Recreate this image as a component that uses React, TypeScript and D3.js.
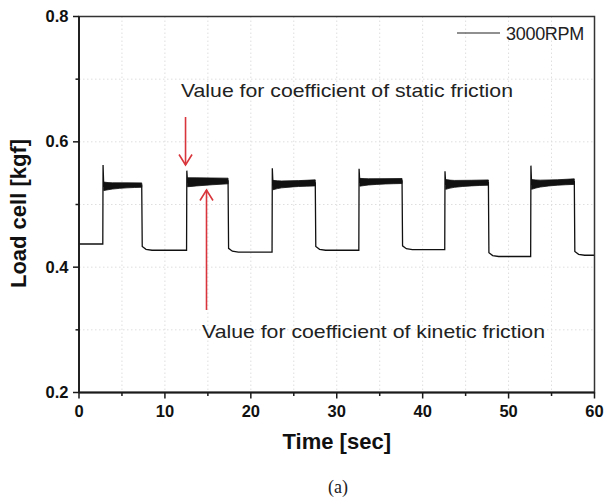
import React from "react";
import * as d3 from "d3";

// ---- data ----
const xTicks = [0, 10, 20, 30, 40, 50, 60];
const xMinor = [5, 15, 25, 35, 45, 55];
const yTicks = [0.2, 0.4, 0.6, 0.8];
const yMinor = [0.3, 0.5, 0.7];
const xGrid = [5, 10, 15, 20, 25, 30, 35, 40, 45, 50, 55];
const yGrid = [0.3, 0.4, 0.5, 0.6, 0.7];

const riseT = [2.8, 12.55, 22.5, 32.6, 42.6, 52.6];
const fallT = [7.3, 17.35, 27.5, 37.6, 47.65, 57.65];
const spikeV = [0.563, 0.554, 0.558, 0.557, 0.553, 0.562];
const highStartV = [0.529, 0.5355, 0.531, 0.5355, 0.532, 0.532];
const highEndV = [0.531, 0.5375, 0.5345, 0.5375, 0.535, 0.5365];
const bandStartW = [0.0068, 0.0072, 0.0075, 0.0062, 0.0078, 0.0078];
const bandMidW = [0.005, 0.0065, 0.0055, 0.005, 0.0055, 0.0055];
const bandEndW = [0.0035, 0.0045, 0.0048, 0.004, 0.0042, 0.0044];
const lowV = [0.437, 0.427, 0.424, 0.427, 0.428, 0.417, 0.419];
const legendLabel = "3000RPM";

const staticNote = { text: "Value for coefficient of static friction", t: 11.87, v: 0.6716 };
const kineticNote = { text: "Value for coefficient of kinetic friction", t: 14.32, v: 0.287 };
const staticArrow = { t: 12.4, from: 0.6396, to: 0.563 };
const kineticArrow = { t: 14.84, from: 0.3317, to: 0.5231 };

const W = 605;
const H = 499;
const m = { left: 79, right: 594.5, top: 16.5, bottom: 392.5 };
const FONT = "'Liberation Sans', Arial, Helvetica, sans-serif";

export default function App() {
  const x = d3.scaleLinear().domain([0, 60]).range([m.left, m.right]);
  const y = d3.scaleLinear().domain([0.2, 0.8]).range([m.bottom, m.top]);

  const pts: [number, number][] = [[0, lowV[0]]];
  riseT.forEach((r, i) => {
    pts.push([r - 0.03, lowV[i]]);
    pts.push([r, spikeV[i]]);
    pts.push([r + 0.08, highStartV[i]]);
    pts.push([fallT[i], highEndV[i]]);
    pts.push([fallT[i] + 0.06, lowV[i + 1] + 0.006]);
    pts.push([fallT[i] + 0.5, lowV[i + 1] + 0.0015]);
    pts.push([fallT[i] + 1.2, lowV[i + 1]]);
  });
  pts.push([60, lowV[lowV.length - 1]]);
  const line = d3
    .line<[number, number]>()
    .x((d) => x(d[0]))
    .y((d) => y(d[1]));

  type B = { t: number; c: number; w: number };
  const bands: B[][] = riseT.map((r, i) => {
    const s = r + 0.08;
    const e = fallT[i];
    const midC = highStartV[i] + (highEndV[i] - highStartV[i]) * 0.3;
    return [
      { t: s, c: highStartV[i], w: bandStartW[i] },
      { t: s + 1.0, c: midC, w: bandMidW[i] },
      { t: e, c: highEndV[i], w: bandEndW[i] },
    ];
  });
  const area = d3
    .area<B>()
    .x((d) => x(d.t))
    .y0((d) => y(d.c - d.w))
    .y1((d) => y(d.c + d.w))
    .curve(d3.curveMonotoneX);

  const red = "#d8363c";
  const axisCol = "#1a1a1a";

  const arrow = (a: { t: number; from: number; to: number }, key: string) => {
    const ax = x(a.t);
    const y0 = y(a.from);
    const y1 = y(a.to);
    const dir = y1 > y0 ? 1 : -1;
    const hw = 6.5;
    const hl = 10.5;
    return (
      <g key={key} stroke={red} strokeWidth={1.6} fill="none">
        <line x1={ax} x2={ax} y1={y0} y2={y1} />
        <polyline points={`${ax - hw},${y1 - dir * hl} ${ax},${y1} ${ax + hw},${y1 - dir * hl}`} />
      </g>
    );
  };

  return (
    <svg
      width={W}
      height={H}
      style={{ position: "absolute", left: 0, top: 0, background: "#fff" }}
      fontFamily={FONT}
    >
      <rect x={0} y={0} width={W} height={H} fill="#fff" />
      <g stroke="#dedede" strokeWidth={1} strokeDasharray="1.5,2.5">
        {xGrid.map((t) => (
          <line key={"gx" + t} x1={x(t)} x2={x(t)} y1={m.top} y2={m.bottom} />
        ))}
        {yGrid.map((v) => (
          <line key={"gy" + v} x1={m.left} x2={m.right} y1={y(v)} y2={y(v)} />
        ))}
      </g>

      <path d={line(pts) || ""} fill="none" stroke="#111" strokeWidth={1.3} />
      {bands.map((b, i) => (
        <path key={"band" + i} d={area(b) || ""} fill="#111" stroke="#111" strokeWidth={0.8} />
      ))}

      <rect
        x={m.left}
        y={m.top}
        width={m.right - m.left}
        height={m.bottom - m.top}
        fill="none"
        stroke="#333"
        strokeWidth={1.5}
      />
      <line x1={m.left} x2={m.left} y1={m.top} y2={m.bottom} stroke={axisCol} strokeWidth={1.8} />
      <line x1={m.left} x2={m.right} y1={m.bottom} y2={m.bottom} stroke={axisCol} strokeWidth={1.8} />

      <g stroke={axisCol} strokeWidth={1.5}>
        {xTicks.map((t) => (
          <line key={"xt" + t} x1={x(t)} x2={x(t)} y1={m.bottom} y2={m.bottom + 6} />
        ))}
        {xMinor.map((t) => (
          <line key={"xm" + t} x1={x(t)} x2={x(t)} y1={m.bottom} y2={m.bottom + 3.5} />
        ))}
        {yTicks.map((v) => (
          <line key={"yt" + v} x1={m.left - 6} x2={m.left} y1={y(v)} y2={y(v)} />
        ))}
        {yMinor.map((v) => (
          <line key={"ym" + v} x1={m.left - 3.5} x2={m.left} y1={y(v)} y2={y(v)} />
        ))}
      </g>

      <g fontWeight="bold" fill="#111" fontSize={16.5}>
        {xTicks.map((t) => (
          <text key={"xl" + t} x={x(t)} y={416.5} textAnchor="middle">
            {t}
          </text>
        ))}
        {yTicks.map((v) => (
          <text key={"yl" + v} x={68.5} y={y(v) + 5.5} textAnchor="end">
            {v.toFixed(1)}
          </text>
        ))}
      </g>

      <text x={(m.left + m.right) / 2} y={449} textAnchor="middle" fontWeight="bold" fontSize={22} fill="#111">
        Time [sec]
      </text>
      <text
        transform={`translate(26,${(m.top + m.bottom) / 2 + 9}) rotate(-90)`}
        textAnchor="middle"
        fontWeight="bold"
        fontSize={22}
        fill="#111"
      >
        Load cell [kgf]
      </text>
      <text x={338} y={493} textAnchor="middle" fontFamily="'Liberation Serif', 'Times New Roman', serif" fontSize={18} fill="#222">
        (a)
      </text>

      <line x1={457} x2={500} y1={33} y2={33} stroke="#222" strokeWidth={1.2} />
      <text x={506} y={40} fontSize={18} fill="#222" letterSpacing={-0.3}>
        {legendLabel}
      </text>

      <text x={x(staticNote.t)} y={y(staticNote.v)} fontSize={18.5} fill="#222" textLength={332} lengthAdjust="spacingAndGlyphs">
        {staticNote.text}
      </text>
      <text x={x(kineticNote.t)} y={y(kineticNote.v)} fontSize={18.5} fill="#222" textLength={343} lengthAdjust="spacingAndGlyphs">
        {kineticNote.text}
      </text>
      {arrow(staticArrow, "a1")}
      {arrow(kineticArrow, "a2")}
    </svg>
  );
}
